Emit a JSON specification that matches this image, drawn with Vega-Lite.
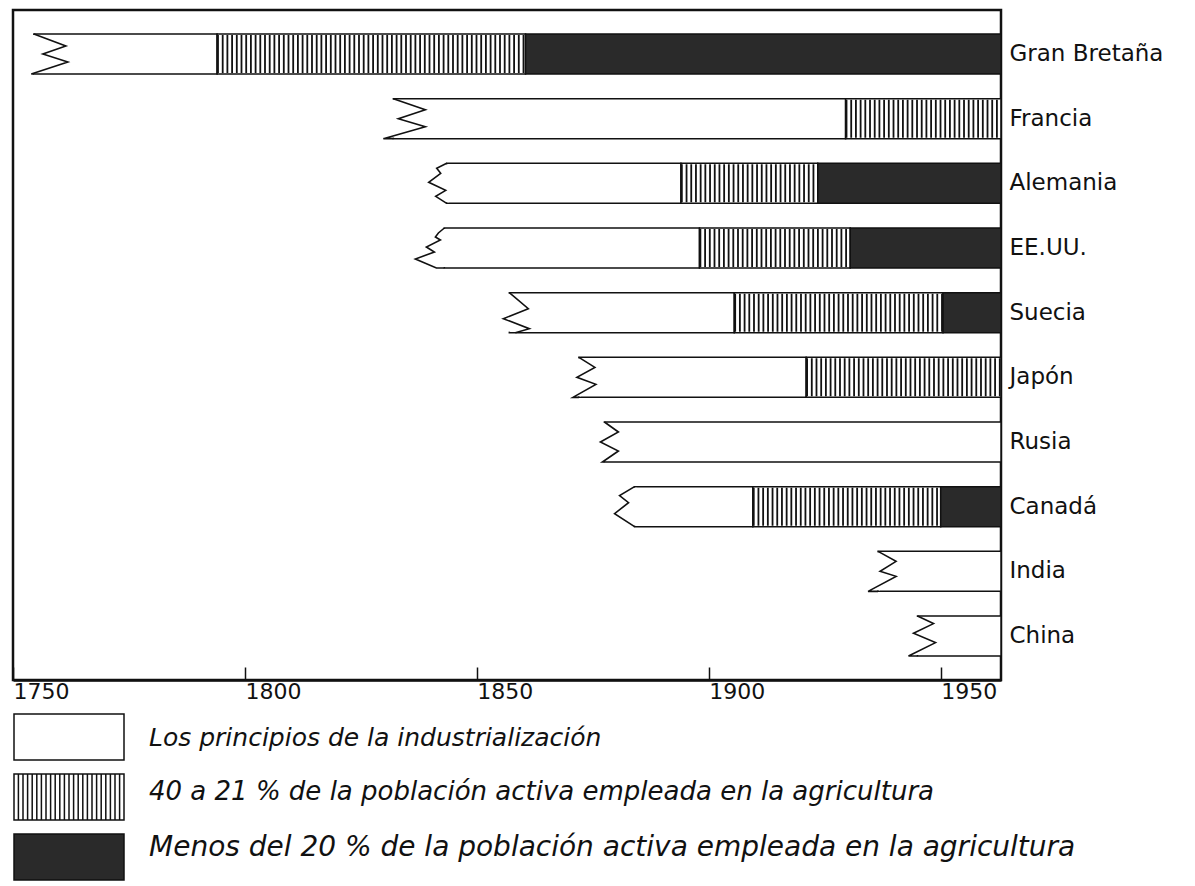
{
  "$schema": "https://vega.github.io/schema/vega-lite/v6.json",
  "width": 988,
  "height": 670,
  "padding": {"left": 12, "top": 10, "right": 0, "bottom": 0},
  "background": "white",
  "config": {
    "view": {"stroke": "#111", "strokeWidth": 2.5},
    "font": "DejaVu Sans"
  },
  "data": {
    "values": [
      {"country": "Gran Bretaña", "stage": "Los principios de la industrialización", "start": 1754.5, "end": 1794},
      {"country": "Gran Bretaña", "stage": "40 a 21 % de la población activa empleada en la agricultura", "start": 1794, "end": 1860.5},
      {"country": "Gran Bretaña", "stage": "Menos del 20 % de la población activa empleada en la agricultura", "start": 1860.5, "end": 1963},
      {"country": "Francia", "stage": "Los principios de la industrialización", "start": 1832, "end": 1929.5},
      {"country": "Francia", "stage": "40 a 21 % de la población activa empleada en la agricultura", "start": 1929.5, "end": 1963},
      {"country": "Alemania", "stage": "Los principios de la industrialización", "start": 1843.5, "end": 1894},
      {"country": "Alemania", "stage": "40 a 21 % de la población activa empleada en la agricultura", "start": 1894, "end": 1923.5},
      {"country": "Alemania", "stage": "Menos del 20 % de la población activa empleada en la agricultura", "start": 1923.5, "end": 1963},
      {"country": "EE.UU.", "stage": "Los principios de la industrialización", "start": 1843, "end": 1898},
      {"country": "EE.UU.", "stage": "40 a 21 % de la población activa empleada en la agricultura", "start": 1898, "end": 1930.5},
      {"country": "EE.UU.", "stage": "Menos del 20 % de la población activa empleada en la agricultura", "start": 1930.5, "end": 1963},
      {"country": "Suecia", "stage": "Los principios de la industrialización", "start": 1857, "end": 1905.5},
      {"country": "Suecia", "stage": "40 a 21 % de la población activa empleada en la agricultura", "start": 1905.5, "end": 1950.5},
      {"country": "Suecia", "stage": "Menos del 20 % de la población activa empleada en la agricultura", "start": 1950.5, "end": 1963},
      {"country": "Japón", "stage": "Los principios de la industrialización", "start": 1872, "end": 1921},
      {"country": "Japón", "stage": "40 a 21 % de la población activa empleada en la agricultura", "start": 1921, "end": 1963},
      {"country": "Rusia", "stage": "Los principios de la industrialización", "start": 1877.5, "end": 1963},
      {"country": "Canadá", "stage": "Los principios de la industrialización", "start": 1884, "end": 1909.5},
      {"country": "Canadá", "stage": "40 a 21 % de la población activa empleada en la agricultura", "start": 1909.5, "end": 1950},
      {"country": "Canadá", "stage": "Menos del 20 % de la población activa empleada en la agricultura", "start": 1950, "end": 1963},
      {"country": "India", "stage": "Los principios de la industrialización", "start": 1936.5, "end": 1963},
      {"country": "China", "stage": "Los principios de la industrialización", "start": 1945, "end": 1963}
    ]
  },
  "encoding": {
    "y": {
      "field": "country",
      "type": "nominal",
      "sort": ["Gran Bretaña", "Francia", "Alemania", "EE.UU.", "Suecia", "Japón", "Rusia", "Canadá", "India", "China"],
      "scale": {"paddingInner": 0.38, "paddingOuter": 0.37},
      "axis": {
        "orient": "right",
        "title": null,
        "ticks": false,
        "domain": false,
        "labelFont": "DejaVu Sans",
        "labelFontSize": 23,
        "labelColor": "#111",
        "labelPadding": 8,
        "labelLimit": 300
      }
    }
  },
  "layer": [
    {
      "mark": {"type": "bar", "height": 40, "stroke": "#111", "strokeWidth": 1.5},
      "encoding": {
        "x": {
          "field": "start",
          "type": "quantitative",
          "scale": {"domain": [1750, 1963], "nice": false, "zero": false},
          "axis": {
            "title": null,
            "values": [1750, 1800, 1850, 1900, 1950],
            "format": "d",
            "labelAlign": "left",
            "labelFlush": false,
            "labelOverlap": false,
            "labelBaseline": "top",
            "labelFont": "DejaVu Sans",
            "labelFontSize": 22,
            "labelColor": "#111",
            "labelPadding": 14,
            "tickSize": -13,
            "tickColor": "#111",
            "tickWidth": 1.5,
            "domainColor": "#111",
            "domainWidth": 2.5,
            "grid": false
          }
        },
        "x2": {"field": "end"},
        "fill": {
          "field": "stage",
          "type": "nominal",
          "scale": {
            "domain": [
              "Los principios de la industrialización",
              "40 a 21 % de la población activa empleada en la agricultura",
              "Menos del 20 % de la población activa empleada en la agricultura"
            ],
            "range": ["white", "white", "#2a2a2a"]
          },
          "legend": {
            "orient": "none",
            "legendX": 0,
            "legendY": 706,
            "title": null,
            "direction": "vertical",
            "padding": 0,
            "symbolSize": 1600,
            "symbolType": "M-1,-1.15H4.5V1.15H-1Z",
            "symbolStrokeColor": "#111",
            "symbolStrokeWidth": 1.5,
            "rowPadding": 8,
            "labelFont": "DejaVu Sans",
            "labelFontSize": 26,
            "labelFontStyle": "italic",
            "labelColor": "#111",
            "labelOffset": 94,
            "labelLimit": 1100,
            "encode": {
              "symbols": {
                "update": {
                  "shape": {"signal": "datum.index === 1 ? 'M-1,-1.15H4.5V1.15H-1ZM-0.78,-1.15v2.3m0.23,-2.3v2.3m0.23,-2.3v2.3m0.23,-2.3v2.3m0.23,-2.3v2.3m0.23,-2.3v2.3m0.23,-2.3v2.3m0.23,-2.3v2.3m0.23,-2.3v2.3m0.23,-2.3v2.3m0.23,-2.3v2.3m0.23,-2.3v2.3m0.23,-2.3v2.3m0.23,-2.3v2.3m0.23,-2.3v2.3m0.23,-2.3v2.3m0.23,-2.3v2.3m0.23,-2.3v2.3m0.23,-2.3v2.3m0.23,-2.3v2.3m0.23,-2.3v2.3m0.23,-2.3v2.3m0.23,-2.3v2.3' : 'M-1,-1.15H4.5V1.15H-1Z'"},
                  "stroke": {"value": "#111"},
                  "strokeWidth": {"value": 1.5},
                  "opacity": {"value": 1}
                }
              },
              "labels": {
                "update": {
                  "fontSize": {"signal": "datum.index === 0 ? 25 : datum.index === 1 ? 26 : 28"},
                  "dy": {"signal": "datum.index === 0 ? 1 : datum.index === 1 ? -5 : -9"}
                }
              }
            }
          }
        }
      }
    },
    {
      "transform": [{"filter": {"field": "stage", "equal": "40 a 21 % de la población activa empleada en la agricultura"}}],
      "mark": {"type": "rule", "strokeWidth": 38, "strokeDash": [1.8, 2.9], "color": "#111", "strokeCap": "butt"},
      "encoding": {
        "x": {"field": "start", "type": "quantitative"},
        "x2": {"field": "end"}
      }
    },
    {
      "transform": [{"filter": {"field": "stage", "equal": "Los principios de la industrialización"}}],
      "mark": {"type": "point", "shape": "M-0.1,-0.95H0.1V0.95H-0.1Z", "filled": true, "fill": "white", "stroke": "white", "strokeWidth": 0, "size": 1600, "opacity": 1},
      "encoding": {
        "x": {"field": "start", "type": "quantitative"}
      }
    },
    {
      "transform": [{"filter": {"field": "stage", "equal": "Los principios de la industrialización"}}],
      "mark": {"type": "point", "filled": false, "stroke": "#111", "strokeWidth": 1.6, "size": 1600, "opacity": 1, "strokeJoin": "miter"},
      "encoding": {
        "x": {"field": "start", "type": "quantitative"},
        "shape": {
          "field": "country",
          "type": "nominal",
          "scale": {
            "domain": ["Gran Bretaña", "Francia", "Alemania", "EE.UU.", "Suecia", "Japón", "Rusia", "Canadá", "India", "China"],
            "range": [
              "M0,-1L1.6,-0.4L0.45,0L1.7,0.4L-0.13,1H0",
              "M0,-1L1.6,-0.45L0.25,0L1.6,0.4L-0.5,1H0",
              "M0,-1L-0.5,-0.75L-0.3,-0.5L-0.9,-0.05L-0.05,0.35L-0.55,0.65L0,1",
              "M0,-1L-0.3,-0.75L-0.45,-0.55L-0.2,-0.4L-0.9,-0.05L-0.5,0.2L-1.45,0.55L-0.4,1H0",
              "M0,-1L0.95,-0.2L-0.3,0.3L1,0.8L0.3,1",
              "M0,-1L0.8,-0.5L-0.1,0L0.85,0.35L-0.3,1H0",
              "M0,-1L0.7,-0.5L-0.2,0L0.7,0.45L-0.1,1H0",
              "M0,-1L-0.75,-0.55L-0.3,-0.2L-1,0.35L0,1",
              "M0,-1L0.9,-0.5L0.1,0L0.9,0.25L-0.5,1H0",
              "M0,-1L0.8,-0.62L-0.2,-0.14L0.9,0.33L-0.45,1H0"
            ]
          },
          "legend": null
        }
      }
    }
  ]
}
